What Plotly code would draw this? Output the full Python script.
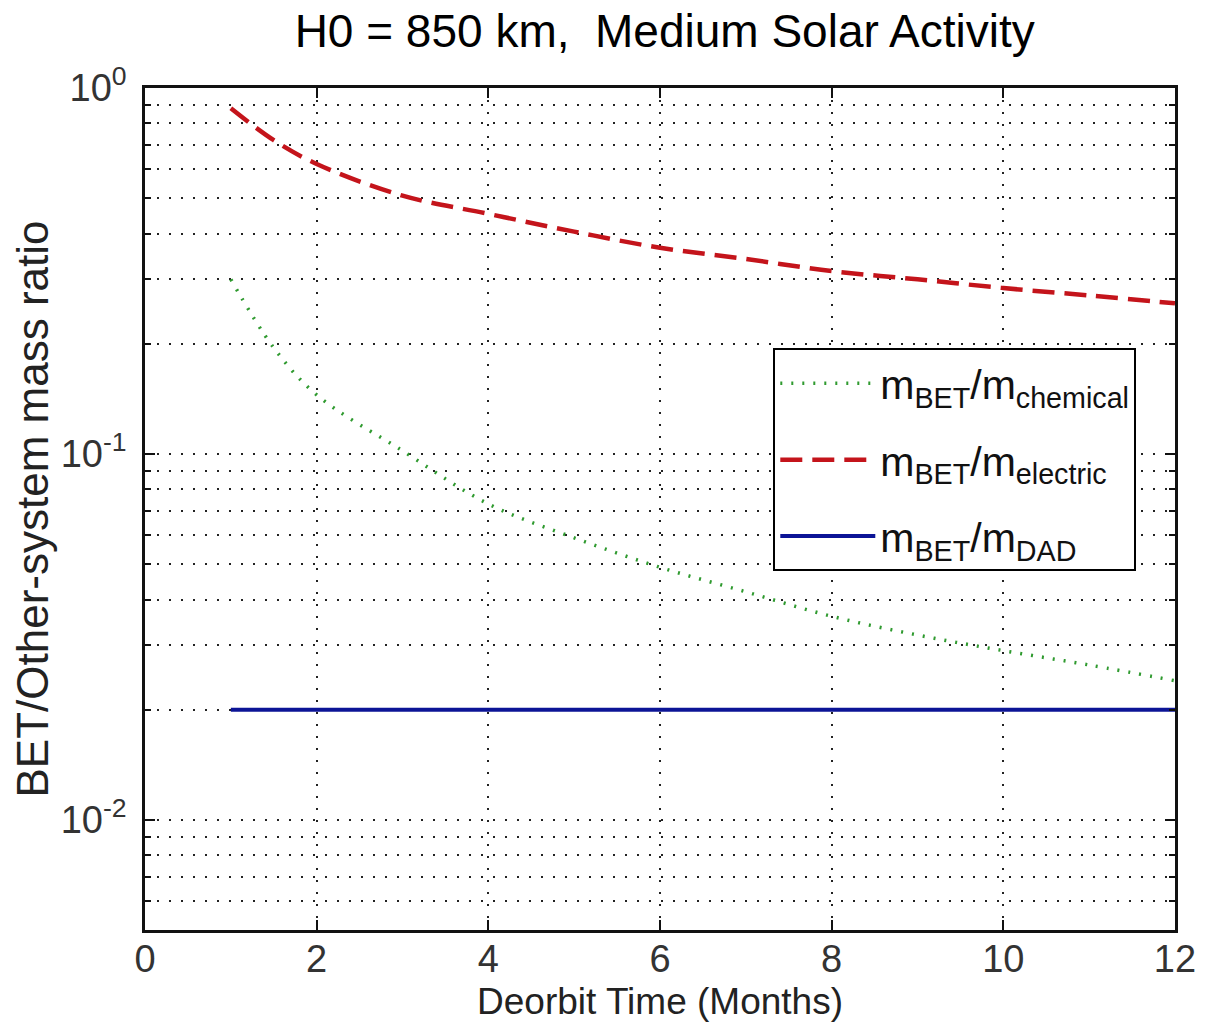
import plotly.graph_objects as go

# Deorbit time (months)
months = [1, 1.5, 2, 3, 4, 5, 6, 7, 8, 9, 10, 11, 12]
# m_BET / m_chemical
ratio_chemical = [0.30, 0.195, 0.145, 0.102, 0.073, 0.059, 0.049, 0.042, 0.036, 0.032, 0.029, 0.0265, 0.024]
# m_BET / m_electric
ratio_electric = [0.88, 0.72, 0.62, 0.508, 0.453, 0.405, 0.366, 0.341, 0.316, 0.300, 0.284, 0.271, 0.258]
# m_BET / m_DAD
months_dad = [1, 12]
ratio_dad = [0.02, 0.02]

x_ticks = [0, 2, 4, 6, 8, 10, 12]
y_major = [0.01, 0.1, 1]
y_major_text = ["10<sup>-2</sup>", "10<sup>-1</sup>", "10<sup>0</sup>"]
y_minor = [0.005, 0.006, 0.007, 0.008, 0.009,
           0.02, 0.03, 0.04, 0.05, 0.06, 0.07, 0.08, 0.09,
           0.2, 0.3, 0.4, 0.5, 0.6, 0.7, 0.8, 0.9]

FONT = "Liberation Sans, Arial, sans-serif"

fig = go.Figure()
fig.add_trace(go.Scatter(
    x=months, y=ratio_chemical, mode="lines", line_shape="spline",
    line=dict(color="#2f9a2f", width=3.5, dash="2px,9px"),
    legendgroup="a",
    name="m<sub>BET</sub>/m<sub>chemical</sub>"))
fig.add_trace(go.Scatter(
    x=months, y=ratio_electric, mode="lines", line_shape="spline",
    line=dict(color="#c4141b", width=4.5, dash="22px,10px"),
    legendgroup="b",
    name="m<sub>BET</sub>/m<sub>electric</sub>"))
fig.add_trace(go.Scatter(
    x=months_dad, y=ratio_dad, mode="lines",
    line=dict(color="#0c1496", width=4),
    legendgroup="c",
    name="m<sub>BET</sub>/m<sub>DAD</sub>"))

grid = dict(gridcolor="#222222", gridwidth=1.5, griddash="2px,10px")

fig.update_layout(
    width=1194, height=1014,
    margin=dict(l=137, r=27, t=80, b=92, autoexpand=False),
    paper_bgcolor="white", plot_bgcolor="white",
    title=dict(text="H0 = 850 km,  Medium Solar Activity",
               x=0.55, xanchor="center", y=0.993, yanchor="top",
               font=dict(family=FONT, size=46, color="#000")),
    font=dict(family=FONT, color="#222"),
    showlegend=True,
    legend=dict(x=0.61, y=0.691, xanchor="left", yanchor="top",
                bgcolor="white", bordercolor="#000", borderwidth=2,
                font=dict(family=FONT, size=41, color="#111"),
                itemwidth=95, tracegroupgap=20),
    xaxis=dict(range=[0, 12], tickvals=x_ticks, ticks="inside", ticklen=10,
               tickwidth=2, tickcolor="#111", showline=True, linecolor="#111",
               linewidth=2.5, mirror="ticks", showgrid=True, zeroline=False,
               automargin=False,
               tickfont=dict(size=38, color="#333"), ticklabelstandoff=-6,
               title=dict(text="Deorbit Time (Months)", standoff=12,
                          font=dict(size=37, color="#222")),
               **grid),
    yaxis=dict(type="log", range=[-2.301, 0], tickvals=y_major,
               ticktext=y_major_text, ticks="inside", ticklen=10, tickwidth=2,
               tickcolor="#111", showline=True, linecolor="#111", linewidth=2.5,
               mirror="ticks", showgrid=True, zeroline=False,
               automargin=False,
               tickfont=dict(size=38, color="#333"), ticklabelstandoff=8,
               minor=dict(tickvals=y_minor, ticks="inside", ticklen=6,
                          tickwidth=2, tickcolor="#111", showgrid=True, **grid),
               title=dict(text="BET/Other-system mass ratio", standoff=10,
                          font=dict(size=44, color="#222")),
               **grid),
)

fig.write_html("out.html")
